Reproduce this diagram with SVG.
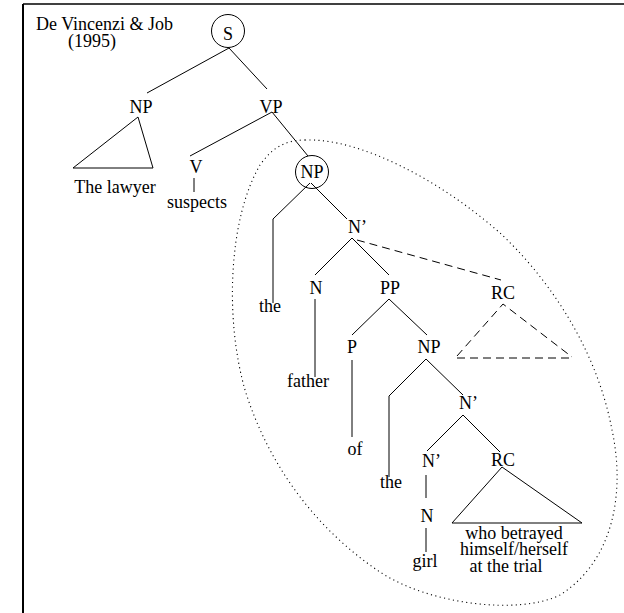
<svg xmlns="http://www.w3.org/2000/svg" width="624" height="613" viewBox="0 0 624 613">
  <style>
    text { font-family: "Liberation Serif", "Times New Roman", serif; font-size: 18px; fill: #000; }
    .c { text-anchor: middle; }
    .small { font-size: 17px; }
    .edge { stroke: #000; stroke-width: 1; fill: none; }
    .stem { stroke: #000; stroke-width: 1; fill: none; }
    .dash { stroke: #000; stroke-width: 1; fill: none; stroke-dasharray: 8 5; }
    .ring { stroke: #000; stroke-width: 1; fill: none; }
    .tri { stroke: #000; stroke-width: 1; fill: none; }
    .scope { stroke: #000; stroke-width: 1.1; fill: none; stroke-dasharray: 1.1 3.4; }
  </style>

  <!-- frame: top and left rules -->
  <g id="frame">
    <line x1="23" y1="4" x2="624" y2="4" stroke="#000" stroke-width="1.5"/>
    <line x1="23" y1="4" x2="23" y2="613" stroke="#000" stroke-width="2"/>
  </g>

  <!-- citation -->
  <g id="citation">
    <text x="36" y="30">De Vincenzi &amp; Job</text>
    <text x="68" y="47">(1995)</text>
  </g>

  <!-- dotted region around the object NP -->
  <path id="scope" class="scope" d="M305,140 C360,138 440,180 500,233 C540,270 595,340 612,430 C625,490 615,560 560,595 C520,615 430,605 380,572 C320,532 270,470 245,390 C225,320 228,220 260,165 C272,148 285,140 305,140 Z"/>

  <!-- connectors -->
  <g id="connectors">
    <line class="edge" x1="229" y1="48" x2="147" y2="93"/>
    <line class="edge" x1="229" y1="48" x2="267" y2="89"/>
    <line class="edge" x1="272" y1="112" x2="190" y2="156"/>
    <line class="edge" x1="272" y1="112" x2="308" y2="156"/>
    <line class="stem" x1="194" y1="178" x2="194" y2="192"/>
    <polyline class="edge" points="310,183 273,219 273,303"/>
    <line class="edge" x1="311" y1="183" x2="347" y2="219"/>
    <line class="edge" x1="352" y1="238" x2="315" y2="275"/>
    <line class="edge" x1="352" y1="238" x2="389" y2="275"/>
    <line class="dash" x1="357" y1="240" x2="501" y2="280"/>
    <line class="stem" x1="315" y1="299" x2="315" y2="377"/>
    <line class="edge" x1="389" y1="299" x2="352" y2="335"/>
    <line class="edge" x1="389" y1="299" x2="427" y2="335"/>
    <line class="stem" x1="352" y1="360" x2="352" y2="437"/>
    <polyline class="edge" points="426,359 389,396 389,477"/>
    <line class="edge" x1="426" y1="359" x2="463" y2="395"/>
    <line class="edge" x1="463" y1="415" x2="427" y2="451"/>
    <line class="edge" x1="463" y1="415" x2="500" y2="452"/>
    <line class="stem" x1="426" y1="475" x2="426" y2="498"/>
    <line class="stem" x1="426" y1="528" x2="426" y2="552"/>
  </g>

  <g id="node-S">
    <circle class="ring" cx="228" cy="31" r="16.5"/>
    <text class="c" x="228" y="40">S</text>
  </g>

  <g id="node-NP-subject">
    <text class="c" x="141" y="113">NP</text>
    <polygon class="tri" points="138,117 73,168 153,168"/>
    <text class="c" x="115" y="193">The lawyer</text>
  </g>

  <g id="node-VP">
    <text class="c" x="271" y="113">VP</text>
  </g>

  <g id="node-V">
    <text class="c" x="196" y="173">V</text>
    <text class="c" x="197" y="208">suspects</text>
  </g>

  <g id="node-NP-object">
    <circle class="ring" cx="312" cy="172" r="16.5"/>
    <text class="c" x="312" y="178">NP</text>
  </g>

  <g id="node-the-1">
    <text class="c" x="270" y="312">the</text>
  </g>

  <g id="node-Nbar-1">
    <text x="348" y="233">N’</text>
  </g>

  <g id="node-N-father">
    <text class="c" x="316" y="294">N</text>
    <text class="c" x="308" y="387">father</text>
  </g>

  <g id="node-PP">
    <text class="c" x="390" y="294">PP</text>
  </g>

  <g id="node-RC-high">
    <text class="c" x="503" y="299">RC</text>
    <polyline class="dash" points="457,356 503,304 572,357"/>
    <line class="dash" x1="457" y1="358" x2="573" y2="358"/>
  </g>

  <g id="node-P">
    <text class="c" x="352" y="353">P</text>
    <text class="c" x="355" y="455">of</text>
  </g>

  <g id="node-NP-inner">
    <text class="c" x="429" y="353">NP</text>
  </g>

  <g id="node-the-2">
    <text class="c" x="391" y="488">the</text>
  </g>

  <g id="node-Nbar-2">
    <text x="459" y="409">N’</text>
  </g>

  <g id="node-Nbar-3">
    <text x="422" y="467">N’</text>
  </g>

  <g id="node-N-girl">
    <text class="c" x="427" y="522">N</text>
    <text class="c" x="425" y="567">girl</text>
  </g>

  <g id="node-RC-low">
    <text class="c" x="503" y="466">RC</text>
    <polygon class="tri" points="502,467 452,523 582,523"/>
    <text class="c" x="514" y="539">who betrayed</text>
    <text class="c" x="514" y="555">himself/herself</text>
    <text class="c" x="506" y="572">at the trial</text>
  </g>
</svg>
